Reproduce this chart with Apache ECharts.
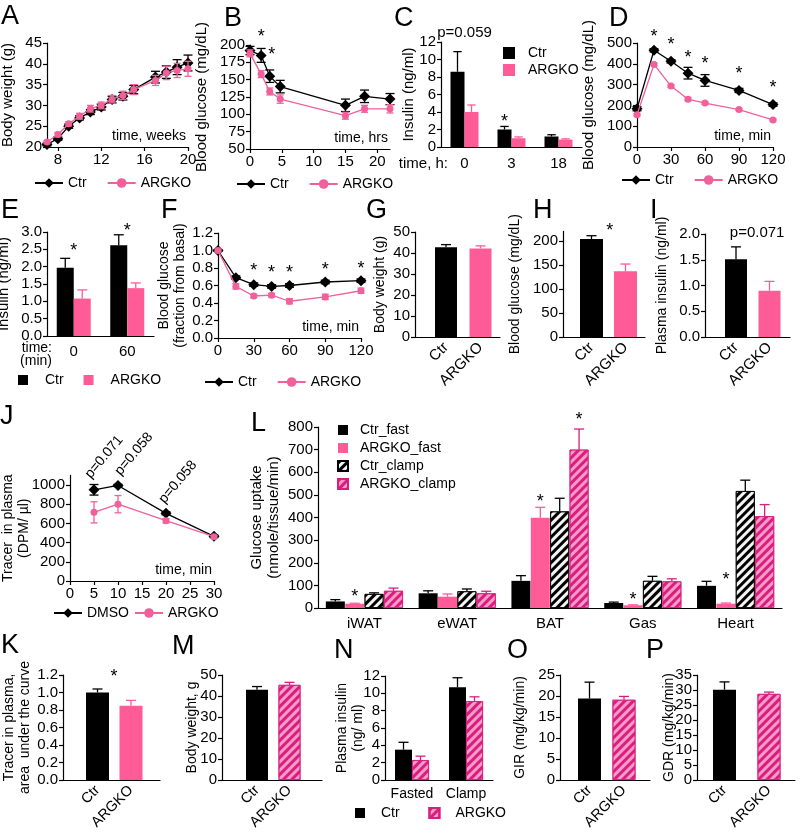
<!DOCTYPE html>
<html><head><meta charset="utf-8">
<script src="https://cdn.jsdelivr.net/npm/echarts@6/dist/echarts.min.js"></script>
<style>html,body{margin:0;padding:0;background:#fff}#c{width:800px;height:837px}</style>
</head><body><div id="c"></div>
<script>
// ================= DATA =================
// A
const weeksA = [7,8,9,10,11,12,13,14,15,17,18,19,20];
const ctrA = [20.6,22.0,25.0,27.0,28.4,29.6,31.4,32.2,33.8,36.8,38.0,39.2,40.2];
const ctrAErr = [0.3,0.4,0.5,0.5,0.6,0.7,0.8,0.9,1.0,1.4,1.5,1.8,1.9];
const koA = [21.2,23.0,25.6,27.4,29.2,30.0,31.5,32.4,33.8,36.0,37.8,38.4,38.8];
const koAErr = [0.3,0.5,0.5,0.7,0.8,0.8,0.9,1.0,1.2,1.2,1.6,1.7,1.8];
const weekTicksA = [8,12,16,20];
// B
const hrsB = [0,1.75,3.1,4.75,15,18,22];
const ctrB = [192,185,155,140,113,126,122];
const ctrBErr = [6,10,9,9,9,9,8];
const koB = [188,158,133,122,98,108,108];
const koBErr = [5,5,5,6,5,5,6];
const starsB = [[1.75,219],[3.4,193]];
const hrTicksB = [0,5,10,15,20];
// C
const catsC = ['0','3','18'];
const ctrC = [8.6,2.0,1.2];   const ctrCErr = [2.3,0.35,0.2];
const koC = [4.0,1.0,0.85];   const koCErr = [0.8,0.15,0.08];
const starsC = [[1,3.4]];
const pTextC = ['p=0.059'];   const pPosC = [[0,13.0]];
// D
const minD = [0,15,30,45,60,90,120];
const ctrD = [184,465,412,355,320,272,204]; const ctrDErr = [10,8,8,28,28,10,8];
const koD = [155,397,293,230,211,180,130];  const koDErr = [5,6,6,8,5,5,5];
const starsD = [[15,553],[30,514],[45,452],[60,423],[90,375],[120,308]];
// E
const catsE = ['0','60'];
const ctrE = [1.97,2.62]; const ctrEErr = [0.27,0.30];
const koE = [1.08,1.38];  const koEErr = [0.25,0.15];
const starsE = [[0,2.6],[1,3.17]];
// F
const minF = [0,15,30,45,60,90,120];
const ctrF = [1.0,0.69,0.61,0.59,0.60,0.64,0.655]; const ctrFErr = [0.01,0.02,0.02,0.02,0.02,0.02,0.02];
const koF = [1.0,0.59,0.48,0.49,0.42,0.47,0.54];   const koFErr = [0.01,0.03,0.02,0.02,0.03,0.03,0.03];
const starsF = [[30,0.82],[45,0.80],[60,0.80],[90,0.83],[120,0.85]];
// two-bar panels
const catsBar = ['Ctr','ARGKO'];
const valG = [42.7,42.2];  const errG = [1.3,1.2];
const valH = [204,137];    const errH = [7,15];     const starsH = [[1.54,231]];
const ticksH = [0,50,100,150,200];
const valI = [1.51,0.90];  const errI = [0.24,0.18]; const pTextI = ['p=0.071']; const pPosI = [[1.63,2.02]];
const valK = [1.0,0.85];   const errK = [0.04,0.06]; const starsK = [[1.49,1.23]];
const valM = [43.0,45.3];  const errM = [1.5,1.2];
const valO = [19.4,19.1];  const errO = [3.9,0.8];
const valP = [30.1,28.7];  const errP = [2.6,0.6];
// J
const minJ = [5,10,20,30];
const ctrJ = [950,995,705,465]; const ctrJErr = [55,12,15,12];
const koJ = [715,800,628,462];  const koJErr = [110,90,22,12];
const ticksJ = [0,200,400,600,800,1000];
const pTextJ = ['p=0.071','p=0.058','p=0.058'];
const pPosJ = [[7.1,1292],[13.3,1323],[22.5,1031]];
// L
const catsL = ['iWAT','eWAT','BAT','Gas','Heart'];
const ctrFastL  = [29,65,120,22,98];    const ctrFastLErr  = [8,11,23,4,20];
const koFastL   = [19,50,399,12,19];    const koFastLErr   = [2,12,46,2,3];
const ctrClampL = [62,74,427,120,517];  const ctrClampLErr = [5,10,58,20,48];
const koClampL  = [76,65,700,118,406];  const koClampLErr  = [12,9,91,11,51];
const starsLkoFast = [[0,70],[2,490],[3,57],[4,145]];
const starsLkoClamp = [[2,855]];
// N
const catsN = ['Fasted','Clamp'];
const ctrN = [3.5,10.7]; const ctrNErr = [0.85,1.1];
const koN = [2.3,9.1];   const koNErr = [0.45,0.5];

// ================= STYLE / HELPERS =================
const FONT = '"Liberation Sans", Arial, Helvetica, sans-serif';
const PINK = '#ff5b97', PINK_LINE = '#f0609a', MAGENTA = '#d81e80', LIGHTPINK = '#ff9cc5';
const hatchBlack = {symbol:'rect', symbolSize:1, dashArrayX:[1,0], dashArrayY:[3,3], rotation:-Math.PI/4, color:'#000'};
const hatchPink  = {symbol:'rect', symbolSize:1, dashArrayX:[1,0], dashArrayY:[3,3], rotation:-Math.PI/4, color:MAGENTA};
const stBlack = {color:'#000'};
const stPink = {color:PINK};
const stHBlack = {color:'#f4f4f4', borderColor:'#000', borderWidth:0.8, decal:hatchBlack};
const stHPink = {color:LIGHTPINK, borderColor:MAGENTA, borderWidth:0.8, decal:hatchPink};

const grids=[], xAxis=[], yAxis=[], series=[], legend=[], title=[];
function merge(a,b){ for(const k in b){ const v=b[k]; if(v && typeof v==='object' && !Array.isArray(v) && typeof v!=='function' && a[k] && typeof a[k]==='object' && !Array.isArray(a[k])) merge(a[k],v); else a[k]=v; } return a; }
function axis(type,o){ return merge({type, nameMoveOverlap:false, axisLine:{show:true,onZero:false,lineStyle:{color:'#000',width:1.2}}, axisTick:{show:true,length:4,inside:false,lineStyle:{color:'#000',width:1.2}}, axisLabel:{color:'#000',fontSize:15,margin:5,fontFamily:FONT,hideOverlap:false}, splitLine:{show:false}, nameTextStyle:{color:'#000',fontSize:15,fontFamily:FONT}}, o||{}); }
function yName(name,gap,extra){ return merge({name, nameLocation:'middle', nameRotate:90, nameGap:gap, nameTextStyle:{fontSize:14, lineHeight:16}}, extra||{}); }
function tName(name){ return {name, nameLocation:'end', nameGap:-2, nameTextStyle:{align:'right', verticalAlign:'bottom', fontSize:14, padding:[0,0,4,0]}}; }
function addGrid(g,xa,ya){ grids.push(Object.assign({containLabel:false, outerBoundsMode:'none'}, g)); const i=grids.length-1; xa.gridIndex=i; ya.gridIndex=i; xAxis.push(xa); yAxis.push(ya); return i; }
const fix1 = v => v.toFixed(1);
const plain = v => String(v);
const SMALL = {axisLabel:{fontSize:13.5}};

function errBars(gi, xs, ys, es, color, o){
  o=o||{};
  series.push({type:'custom', xAxisIndex:gi, yAxisIndex:gi, silent:true, clip:false, z:o.z||1,
    data: xs.map((x,i)=>[x, ys[i], es[i]]),
    renderItem:(p,api)=>{
      const x=api.value(0), y=api.value(1), e=api.value(2);
      const c = Array.isArray(color) ? color[p.dataIndex] : color;
      const lw=o.lw||1.3, cw=o.cap||8, off=o.offset||0;
      const t=api.coord([x,y+e]), b=api.coord([x, o.up? y : y-e]); const cx=t[0]+off;
      const ch=[{type:'line',shape:{x1:cx,y1:t[1],x2:cx,y2:b[1]},style:{stroke:c,lineWidth:lw}},
                {type:'line',shape:{x1:cx-cw/2,y1:t[1],x2:cx+cw/2,y2:t[1]},style:{stroke:c,lineWidth:lw}}];
      if(!o.up) ch.push({type:'line',shape:{x1:cx-cw/2,y1:b[1],x2:cx+cw/2,y2:b[1]},style:{stroke:c,lineWidth:lw}});
      return {type:'group', children:ch};
    }});
}
function marks(gi, pts, texts, o){
  o=o||{};
  series.push({type:'custom', xAxisIndex:gi, yAxisIndex:gi, silent:true, clip:false, z:10, data:pts,
    renderItem:(p,api)=>{
      const c=api.coord([api.value(0),api.value(1)]); const fs=o.fs||18;
      const t=Array.isArray(texts)?texts[p.dataIndex]:texts;
      return {type:'text', x:c[0]+(o.dx||0), y:c[1]+(o.dy===undefined?0:o.dy), rotation:(o.rot||0)*Math.PI/180,
        style:{text:t, font:fs+'px '+FONT, fill:'#000', textAlign:'center', textVerticalAlign:'middle'}};
    }});
}
function stars(gi, pts, dx){ marks(gi, pts, '*', {fs:18, dy:5, dx:dx||0}); }
function line(gi,name,xs,ys,color,symbol,size,z){
  series.push({type:'line', name, xAxisIndex:gi, yAxisIndex:gi, data:xs.map((x,i)=>[x,ys[i]]), symbol, symbolSize:size,
    itemStyle:{color}, lineStyle:{color,width:1.3}, z, clip:false, silent:true});
}
function ctrLine(gi,name,xs,ys,es){ errBars(gi,xs,ys,es,'#000',{z:2,cap:9}); line(gi,name,xs,ys,'#000','diamond',11,3); }
function koLine(gi,name,xs,ys,es){ errBars(gi,xs,ys,es,PINK_LINE,{z:4,cap:7}); line(gi,name,xs,ys,PINK_LINE,'circle',7,5); }
function groupBars(gi,names,vals,errs,styles,errColors,w,gap){
  const n=names.length;
  names.forEach((nm,k)=>series.push({type:'bar', name:nm, xAxisIndex:gi, yAxisIndex:gi, data:vals[k], barWidth:w, barGap:(gap*100)+'%', itemStyle:styles[k], silent:true, z:2}));
  names.forEach((nm,k)=>errBars(gi, vals[k].map((_,i)=>i), vals[k], errs[k], errColors[k], {up:true, offset:(k-(n-1)/2)*w*(1+gap), cap:Math.min(10,w*0.6), z:3}));
  return k=>(k-(n-1)/2)*w*(1+gap);
}
function pairGrid(x0,c1,c2,xend,top,height,yax,lfs){
  const u=c2-c1, min=1-(c1-x0)/u, max=1+(xend-c1)/u;
  return addGrid({left:x0, top, width:xend-x0, height},
    axis('value',{min, max, axisTick:{show:false}, axisLabel:{customValues:[1,2], formatter:v=>catsBar[Math.round(v)-1], rotate:45, margin:8, fontSize:lfs||15}}), yax);
}
function pairBars(gi, vals, errs, styles, errColors, w){
  series.push({type:'bar', xAxisIndex:gi, yAxisIndex:gi, barWidth:w, silent:true, z:2,
    data: vals.map((v,i)=>({value:[i+1,v], itemStyle:styles[i]}))});
  errBars(gi, vals.map((_,i)=>i+1), vals, errs, errColors, {up:true, cap:10, z:3});
}
function lg(o){ legend.push(merge({show:true, padding:0, itemGap:20, itemWidth:28, itemHeight:12, selectedMode:false, textStyle:{fontSize:14, color:'#000', fontFamily:FONT}}, o)); }

// ================= PANELS =================
// A
const gA = addGrid({left:47, top:43, width:141, height:104},
  axis('value', merge({min:7, max:20, axisLabel:{customValues:weekTicksA}, axisTick:{customValues:weekTicksA}}, tName('time, weeks'))),
  axis('value', merge({min:20, max:45, interval:5}, yName('Body weight (g)', 31, {nameTextStyle:{fontSize:15}}))));
ctrLine(gA,'Ctr',weeksA,ctrA,ctrAErr); koLine(gA,'ARGKO',weeksA,koA,koAErr);
lg({data:['Ctr','ARGKO'], left:34, top:176});

// B
const gB = addGrid({left:250, top:45, width:140, height:104},
  axis('value', merge({min:0, max:22, axisLabel:{customValues:hrTicksB}, axisTick:{customValues:hrTicksB}}, tName('time, hrs'))),
  axis('value', merge({min:50, max:200, interval:25}, yName('Blood glucose (mg/dL)', 40, {nameTextStyle:{fontSize:15}}))));
ctrLine(gB,'Ctr',hrsB,ctrB,ctrBErr); koLine(gB,'ARGKO',hrsB,koB,koBErr);
stars(gB, starsB);
lg({data:['Ctr','ARGKO'], left:236, top:177});

// C
const gC = addGrid({left:441, top:42, width:141, height:105},
  axis('category', {data:catsC, axisTick:{show:false}, axisLabel:{margin:9, interval:0}, name:'time, h:', nameLocation:'start', nameGap:-7, nameTextStyle:{align:'right', verticalAlign:'top', padding:[9,0,0,0]}}),
  axis('value', merge({min:0, max:12, interval:2}, yName('Insulin (ng/ml)', 24, {nameTextStyle:{fontSize:15}}))));
const offC = groupBars(gC, ['Ctr ','ARGKO '], [ctrC,koC], [ctrCErr,koCErr], [stBlack,stPink], ['#000',PINK], 14, 0);
stars(gC, starsC, offC(0));
marks(gC, pPosC, pTextC, {fs:15});
lg({data:['Ctr ','ARGKO '], left:503, top:46, orient:'vertical', itemWidth:12, itemHeight:12, itemGap:3, icon:'rect', textStyle:{padding:[0,0,0,8]}});

// D
const gD = addGrid({left:637, top:43, width:136, height:104},
  axis('value', merge({min:0, max:120, interval:30}, tName('time, min'))),
  axis('value', merge({min:0, max:500, interval:100}, yName('Blood glucose (mg/dL)', 40, {nameTextStyle:{fontSize:15}}))));
ctrLine(gD,'Ctr',minD,ctrD,ctrDErr); koLine(gD,'ARGKO',minD,koD,koDErr);
stars(gD, starsD);
lg({data:['Ctr','ARGKO'], left:621, top:173});

// E
const gE = addGrid({left:47, top:232, width:107, height:104},
  axis('category', {data:catsE, axisTick:{show:false}, axisLabel:{margin:8, interval:0}, name:'time:\n(min)', nameLocation:'start', nameGap:-5, nameTextStyle:{align:'right', verticalAlign:'top', fontSize:14, lineHeight:13, padding:[6,0,0,0]}}),
  axis('value', merge({min:0, max:3, interval:0.5, axisLabel:{formatter:fix1}}, yName('Insulin (ng/ml)', 35, {nameTextStyle:{fontSize:15}}))));
groupBars(gE, ['Ctr ','ARGKO '], [ctrE,koE], [ctrEErr,koEErr], [stBlack,stPink], ['#000',PINK], 17, 0);
stars(gE, starsE);
lg({data:['Ctr ','ARGKO '], left:18, top:373, itemWidth:10, itemHeight:10, itemGap:16, icon:'rect', textStyle:{padding:[0,0,0,12]}});

// F
const gF = addGrid({left:218, top:233, width:143, height:105},
  axis('value', merge({min:0, max:120, interval:30}, tName('time, min'))),
  axis('value', merge({min:0, max:1.2, interval:0.2, axisLabel:{formatter:fix1}}, yName('Blood glucose\n(fraction from basal)', 30))));
ctrLine(gF,'Ctr',minF,ctrF,ctrFErr); koLine(gF,'ARGKO',minF,koF,koFErr);
stars(gF, starsF);
lg({data:['Ctr','ARGKO'], left:204, top:375});

// G
const gG = pairGrid(415, 446, 480.5, 500, 232, 105, axis('value', merge({min:0, max:50, interval:10}, yName('Body weight (g)', 27))));
pairBars(gG, valG, errG, [stBlack,stPink], ['#000',PINK], 22);
// H
const gH = pairGrid(563, 591.5, 625.5, 645, 231.4, 105.6, axis('value', merge({min:0, max:220, axisLabel:{customValues:ticksH}, axisTick:{customValues:ticksH}}, yName('Blood glucose (mg/dL)', 40))));
pairBars(gH, valH, errH, [stBlack,stPink], ['#000',PINK], 23);
stars(gH, starsH);
// I
const gI = pairGrid(705, 736, 769.5, 790, 234, 103, axis('value', merge({min:0, max:2, interval:0.5, axisLabel:{formatter:fix1}}, yName('Plasma insulin (ng/ml)', 35))));
pairBars(gI, valI, errI, [stBlack,stPink], ['#000',PINK], 22);
marks(gI, pPosI, pTextI, {fs:15});

// J
const gJ = addGrid({left:70, top:475.4, width:144, height:105.6},
  axis('value', merge({min:0, max:30, interval:5}, tName('time, min'))),
  axis('value', merge({min:0, max:1100, axisLabel:{customValues:ticksJ, formatter:plain}, axisTick:{customValues:ticksJ}}, yName('Tracer  in plasma\n(DPM/ µl)', 38))));
ctrLine(gJ,'DMSO',minJ,ctrJ,ctrJErr); koLine(gJ,'ARGKO',minJ,koJ,koJErr);
marks(gJ, pPosJ, pTextJ, {fs:14, rot:50});
lg({data:['DMSO','ARGKO'], left:53, top:606, itemGap:5});

// L
const gL = addGrid({left:318, top:427, width:464, height:181},
  axis('category', {data:catsL, axisTick:{show:false}, axisLabel:{margin:8, interval:0}}),
  axis('value', merge({min:0, max:800, interval:100}, yName('Glucose uptake\n(nmole/tissue/min)', 36, {nameTextStyle:{fontSize:15, lineHeight:17}}))));
const offL = groupBars(gL, ['Ctr_fast','ARGKO_fast','Ctr_clamp','ARGKO_clamp'],
  [ctrFastL,koFastL,ctrClampL,koClampL], [ctrFastLErr,koFastLErr,ctrClampLErr,koClampLErr],
  [stBlack,stPink,stHBlack,stHPink], ['#000',PINK,'#000',MAGENTA], 19, 0.02);
stars(gL, starsLkoFast, offL(1));
stars(gL, starsLkoClamp, offL(3));
lg({data:['Ctr_fast','ARGKO_fast','Ctr_clamp','ARGKO_clamp'], left:337, top:423, orient:'vertical', itemWidth:10, itemHeight:10, itemGap:4, icon:'rect', textStyle:{padding:[0,0,0,7]}});

// K
const gK = pairGrid(63, 97.5, 131, 160, 675, 105, axis('value', merge({min:0, max:1.2, interval:0.2, axisLabel:{formatter:fix1}}, yName('Tracer in plasma,\narea  under the curve', 30), SMALL)), 14.5);
pairBars(gK, valK, errK, [stBlack,stPink], ['#000',PINK], 23);
stars(gK, starsK);
// M
const gM = pairGrid(222, 257, 289.5, 322, 675, 105, axis('value', merge({min:0, max:50, interval:10}, yName('Body weight, g', 22), SMALL)), 14.5);
pairBars(gM, valM, errM, [stBlack,stHPink], ['#000',MAGENTA], 22);
// N
const gN = addGrid({left:385, top:676, width:108, height:104},
  axis('category', {data:catsN, axisTick:{show:false}, axisLabel:{margin:7, interval:0, fontSize:14}}),
  axis('value', merge({min:0, max:12, interval:2}, yName('Plasma insulin\n(ng/ ml)', 19), SMALL)));
groupBars(gN, ['Ctr  ','ARGKO  '], [ctrN,koN], [ctrNErr,koNErr], [stBlack,stHPink], ['#000',MAGENTA], 17, 0);
lg({data:['Ctr  ','ARGKO  '], left:355, top:806, itemWidth:10, itemHeight:10, itemGap:21, icon:'rect', textStyle:{padding:[0,0,0,11]}});
// O
const gO = pairGrid(560, 589.5, 624, 650, 675, 105, axis('value', merge({min:0, max:25, interval:5}, yName('GIR (mg/kg/min)', 32), SMALL)), 14.5);
pairBars(gO, valO, errO, [stBlack,stHPink], ['#000',MAGENTA], 23);
// P
const gP = pairGrid(697, 724.5, 769, 795, 675, 105, axis('value', merge({min:0, max:35, interval:5}, yName('GDR (mg/kg/min)', 20), SMALL)), 14.5);
pairBars(gP, valP, errP, [stBlack,stHPink], ['#000',MAGENTA], 23);

// panel letters
[['A',1,3],['B',224,5],['C',394,5],['D',609,5],['E',1,197],['F',161,197],['G',366,197],['H',533,197],['I',650,197],
 ['J',0,403],['L',251,410],['K',1,632],['M',172,633],['N',334,637],['O',507,637],['P',646,637]]
 .forEach(([t,x,y])=>title.push({text:t, left:x, top:y, padding:0, textStyle:{fontSize:27, fontWeight:'normal', color:'#000', fontFamily:FONT}}));

const chart = echarts.init(document.getElementById('c'), null, {renderer:'canvas'});
chart.setOption({animation:false, backgroundColor:'#fff', textStyle:{fontFamily:FONT}, title, legend, grid:grids, xAxis, yAxis, series});
</script></body></html>
